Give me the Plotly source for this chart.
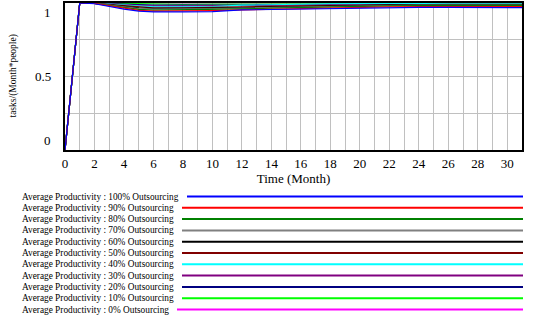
import plotly.graph_objects as go

# ---- data ----
time = [0, 1, 2, 3, 4, 5, 6, 8, 10, 12, 14, 16, 18, 20, 22, 24, 26, 28, 31]

series_names = [
    "Average Productivity : 100% Outsourcing",
    "Average Productivity : 90% Outsourcing",
    "Average Productivity : 80% Outsourcing",
    "Average Productivity : 70% Outsourcing",
    "Average Productivity : 60% Outsourcing",
    "Average Productivity : 50% Outsourcing",
    "Average Productivity : 40% Outsourcing",
    "Average Productivity : 30% Outsourcing",
    "Average Productivity : 20% Outsourcing",
    "Average Productivity : 10% Outsourcing",
    "Average Productivity : 0% Outsourcing",
]

series_colors = ["#0000ff", "#ff0000", "#008000", "#808080", "#000000", "#800000",
                 "#00ffff", "#800080", "#000080", "#00ff00", "#ff00ff"]

p100 = [0, 1.0, 0.995, 0.975, 0.958, 0.945, 0.939, 0.939, 0.942, 0.953, 0.956, 0.960, 0.964, 0.968, 0.969, 0.970, 0.970, 0.970, 0.968]
p90 = [0, 1.0, 0.997, 0.980, 0.963, 0.950, 0.945, 0.945, 0.948, 0.953, 0.958, 0.962, 0.967, 0.971, 0.974, 0.975, 0.975, 0.975, 0.975]
p80 = [0, 1.0, 0.997, 0.983, 0.968, 0.957, 0.952, 0.953, 0.956, 0.960, 0.965, 0.970, 0.974, 0.978, 0.981, 0.983, 0.984, 0.984, 0.984]
p70 = [0, 1.0, 0.998, 0.986, 0.972, 0.962, 0.958, 0.958, 0.961, 0.965, 0.969, 0.974, 0.978, 0.981, 0.984, 0.985, 0.986, 0.986, 0.986]
p60 = [0, 1.0, 0.998, 0.988, 0.976, 0.967, 0.963, 0.963, 0.965, 0.969, 0.973, 0.977, 0.981, 0.984, 0.986, 0.987, 0.988, 0.988, 0.987]
p50 = [0, 1.0, 0.998, 0.990, 0.979, 0.971, 0.967, 0.967, 0.969, 0.972, 0.976, 0.980, 0.983, 0.986, 0.988, 0.989, 0.990, 0.990, 0.990]
p40 = [0, 1.0, 0.999, 0.993, 0.984, 0.977, 0.974, 0.974, 0.976, 0.985, 0.990, 0.993, 0.995, 0.996, 0.997, 0.997, 0.997, 0.997, 0.997]
p30 = [0, 1.0, 0.999, 0.995, 0.988, 0.982, 0.979, 0.979, 0.981, 0.984, 0.987, 0.990, 0.992, 0.994, 0.995, 0.996, 0.996, 0.996, 0.996]
p20 = [0, 1.0, 0.999, 0.996, 0.991, 0.987, 0.985, 0.985, 0.986, 0.988, 0.990, 0.992, 0.994, 0.995, 0.996, 0.997, 0.997, 0.997, 0.997]
p10 = [0, 1.0, 1.0, 0.998, 0.995, 0.992, 0.991, 0.991, 0.992, 0.993, 0.994, 0.995, 0.996, 0.997, 0.998, 0.998, 0.998, 0.998, 0.998]
p0 = [0, 1.0, 1.0, 1.0, 1.0, 1.0, 1.0, 1.0, 1.0, 1.0, 1.0, 1.0, 1.0, 1.0, 1.0, 1.0, 1.0, 1.0, 1.0]

series_values = [p100, p90, p80, p70, p60, p50, p40, p30, p20, p10, p0]

x_ticks = list(range(0, 31, 2))
y_tick_vals = [0, 0.5, 1]
y_tick_text = ["0", "0.5", "1"]

# ---- layout geometry (pixels) ----
W, H = 537, 320
ML, MR, MT, MB = 65, 15, 3, 170
PW, PH = W - ML - MR, H - MT - MB


def px2x(p):
    return (p - ML) / PW


def py2y(p):
    return (MT + PH - p) / PH


FONT = "Liberation Serif"

fig = go.Figure()

# draw in reverse so the first series ends on top
for name, vals, col in reversed(list(zip(series_names, series_values, series_colors))):
    fig.add_trace(go.Scatter(x=time, y=vals, mode="lines", name=name,
                             line=dict(color=col, width=1.2), showlegend=False))

annotations = []
shapes = []

# y tick labels, Vensim style (top and bottom labels pulled inside)
shifts = {0: 10, 0.5: 0, 1: -9}
for v, t in zip(y_tick_vals, y_tick_text):
    annotations.append(dict(x=0, xref="paper", y=v, yref="y", text=t, showarrow=False,
                            xanchor="right", yanchor="middle", xshift=-12, yshift=shifts[v],
                            font=dict(family=FONT, size=13, color="black")))

# y axis title
annotations.append(dict(x=px2x(13), xref="paper", y=0.5, yref="paper",
                        text="tasks/(Month*people)", textangle=-90, showarrow=False,
                        xanchor="center", yanchor="middle",
                        font=dict(family=FONT, size=9.5, color="black")))

# Vensim-like legend below the chart: text then line to the right
row0, row_step = 196.5, 11.3
for i, (name, col) in enumerate(zip(series_names, series_colors)):
    yp = row0 + i * row_step
    annotations.append(dict(x=px2x(20), xref="paper", y=py2y(yp), yref="paper",
                            text=name, showarrow=False, xanchor="left", yanchor="middle",
                            font=dict(family=FONT, size=9.3, color="black")))
    x_start = 187 - 5 * (len(series_names[0]) - len(name))
    shapes.append(dict(type="line", xref="paper", yref="paper",
                       x0=px2x(x_start), x1=px2x(523), y0=py2y(yp), y1=py2y(yp),
                       line=dict(color=col, width=2)))

fig.update_layout(
    width=W, height=H,
    margin=dict(l=ML, r=MR, t=MT, b=MB, pad=0, autoexpand=False),
    paper_bgcolor="white", plot_bgcolor="white",
    font=dict(family=FONT, size=13, color="black"),
    annotations=annotations, shapes=shapes,
    xaxis=dict(range=[0, 31], tickmode="array", tickvals=x_ticks, automargin=False,
               ticks="", showgrid=True, gridcolor="#c0c0c0", gridwidth=1,
               minor=dict(dtick=1, showgrid=True, gridcolor="#c0c0c0", gridwidth=1),
               showline=True, linecolor="black", linewidth=2, mirror=True,
               zeroline=False, tickfont=dict(family=FONT, size=13),
               title=dict(text="Time (Month)", font=dict(family=FONT, size=13), standoff=2)),
    yaxis=dict(range=[0, 1.0], dtick=0.25, tick0=0, showticklabels=False, ticks="",
               automargin=False,
               showgrid=True, gridcolor="#c0c0c0", gridwidth=1,
               showline=True, linecolor="black", linewidth=2, mirror=True,
               zeroline=False),
)

# remove the default page margin so the figure sits at the window's top-left corner
fig.write_html("out.html", config={"displayModeBar": False},
               post_script="document.body.style.margin='0';")
